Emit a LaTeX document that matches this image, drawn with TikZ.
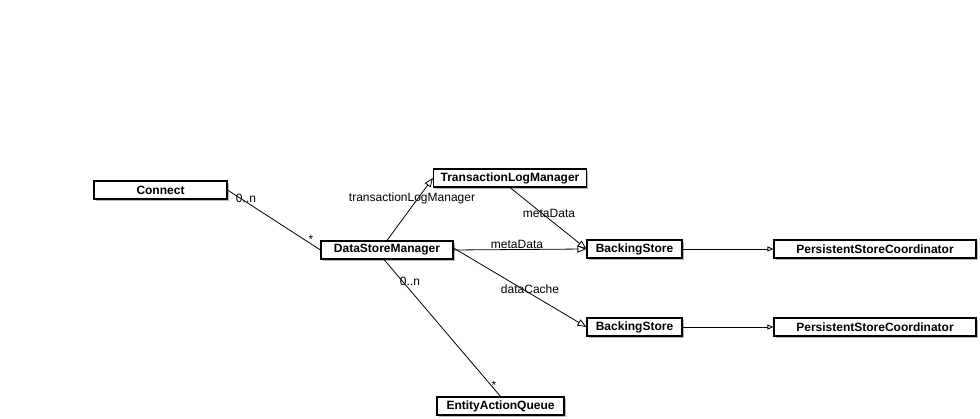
\documentclass[tikz,border=0pt]{standalone}
\usepackage{fontspec}
\setmainfont{Liberation Sans}
\usetikzlibrary{arrows.meta,shadows}
\begin{document}
\begin{tikzpicture}[x=1pt,y=-1pt,
  cls/.style={draw=black,line width=1.1pt,fill=white,minimum height=18pt,inner sep=0pt,
    font=\fontsize{12}{14}\selectfont\bfseries,
    drop shadow={shadow xshift=1.8pt,shadow yshift=-1.8pt,fill=black!35,opacity=0.8}},
  assoc/.style={draw=black,line width=0.8pt},
  gen/.style={assoc,-{Triangle[open,length=9pt,width=7pt,line width=0.8pt]}},
  gensmall/.style={assoc,-{Triangle[open,length=6pt,width=5pt,line width=0.8pt]}},
  lbl/.style={font=\fontsize{12}{14}\selectfont,inner sep=0pt}]
\useasboundingbox (0,0) rectangle (980,419);
\node[cls,minimum width=133pt] (con) at (160.5,190) {Connect};
\node[cls,minimum width=132pt] (dsm) at (387,250) {DataStoreManager};
\node[cls,minimum width=153pt] (tlm) at (510,178) {TransactionLogManager};
\node[cls,minimum width=95pt] (bs1) at (634.5,249) {BackingStore};
\node[cls,minimum width=202pt] (psc1) at (875,249) {PersistentStoreCoordinator};
\node[cls,minimum width=95pt] (bs2) at (634.5,327) {BackingStore};
\node[cls,minimum width=202pt] (psc2) at (875,327) {PersistentStoreCoordinator};
\node[cls,minimum width=127pt] (eaq) at (500.5,406) {EntityActionQueue};

\draw[assoc] (con.east) -- (dsm.west);
\draw[gen] (dsm.north) -- (tlm.west);
\draw[gen] (tlm.south) -- (bs1.west);
\draw[gen] (dsm.east) -- (bs1.west);
\draw[gen] ([yshift=2pt]dsm.east) -- (bs2.west);
\draw[assoc] ([xshift=-3pt]dsm.south) -- (eaq.north);
\draw[gensmall] (bs1.east) -- (psc1.west);
\draw[gensmall] (bs2.east) -- (psc2.west);

\node[lbl] (l1) at (246,198) {0..n};
\node[lbl] (l2) at (311,239) {*};
\node[lbl] (l3) at (412,198) {transactionLogManager};
\node[lbl] (l4) at (549,213) {metaData};
\node[lbl] (l5) at (517,244) {metaData};
\node[lbl] (l6) at (530,289) {dataCache};
\node[lbl] (l7) at (410,281) {0..n};
\node[lbl] (l8) at (494,385) {*};
\end{tikzpicture}
\end{document}
